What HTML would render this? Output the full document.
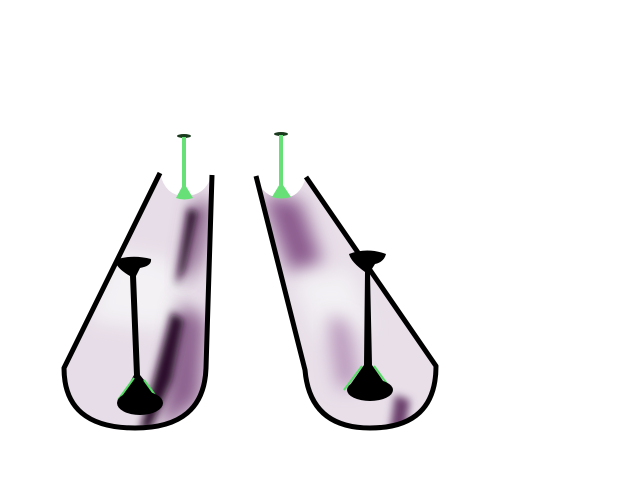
<!DOCTYPE html>
<html><head><meta charset="utf-8"><style>html,body{margin:0;padding:0;background:#fff;width:640px;height:480px;overflow:hidden}</style></head>
<body>
<svg width="640" height="480" viewBox="0 0 640 480" xmlns="http://www.w3.org/2000/svg">
<defs>
<clipPath id="cl"><path d="M160,173 Q165,196 185,196 Q205,196 212,175 L206,368 Q204,428 135,428 Q64,428 64,368 Z"/></clipPath>
<clipPath id="cr"><path d="M256,176 Q262,198 283,198 Q300,198 306,177 L436,366 Q436,428 370,428 Q310,428 305,370 Z"/></clipPath>
<filter id="b6" x="-50%" y="-50%" width="200%" height="200%"><feGaussianBlur stdDeviation="9"/></filter>
<filter id="b3" x="-50%" y="-50%" width="200%" height="200%"><feGaussianBlur stdDeviation="4"/></filter>
</defs>
<g>
<g clip-path="url(#cl)">
<rect x="50" y="160" width="170" height="280" fill="#e7dde8"/>
<path d="M110,250 L170,260 L200,310 L160,330 L90,320 Z" fill="#f3f1f4" filter="url(#b6)"/>
<path d="M195,200 L212,205 L200,260 L180,290 Z" fill="#7a4e7c" filter="url(#b6)"/>
<path d="M188,208 L198,212 L185,270 L176,285 Z" fill="#2a0f2c" filter="url(#b3)"/>
<path d="M180,300 L205,320 L200,400 L160,430 Z" fill="#8a5e8c" filter="url(#b6)"/>
<path d="M172,312 L184,320 L172,380 L150,430 L140,430 L156,370 Z" fill="#2a0f2c" filter="url(#b3)"/>
</g>
<path d="M160,173 L64,368 Q64,428 135,428 Q204,428 206,368 L212,175" fill="none" stroke="#000" stroke-width="5" stroke-linejoin="round"/>
</g>
<g>
<g clip-path="url(#cr)">
<rect x="250" y="160" width="200" height="280" fill="#e8dfe9"/>
<path d="M262,195 L300,200 L322,262 L290,272 Z" fill="#8a5a8d" filter="url(#b6)"/>
<path d="M295,280 L350,270 L370,330 L320,340 Z" fill="#f3f1f4" filter="url(#b6)"/>
<path d="M328,315 L348,322 L358,385 L338,388 Z" fill="#b592b7" filter="url(#b6)"/>
<path d="M395,395 L410,400 L405,430 L390,430 Z" fill="#6a3f6c" filter="url(#b3)"/>
</g>
<path d="M256,176 L305,370 Q310,428 370,428 Q436,428 436,366 L306,177" fill="none" stroke="#000" stroke-width="5" stroke-linejoin="round"/>
</g>
<g fill="#66e077">
<ellipse cx="184" cy="136" rx="7" ry="2" fill="#1a3a1e"/>
<path d="M182,137 L186,137 L186,187 L182,187 Z"/>
<path d="M176,198 L184,183 L193,198 Q184,201 176,198 Z"/>
</g>
<g fill="#66e077">
<ellipse cx="281" cy="134" rx="7" ry="2" fill="#1a3a1e"/>
<path d="M279,135 L283,135 L283,185 L279,185 Z"/>
<path d="M272,197 L281,182 L291,197 Q281,200 272,197 Z"/>
</g>
<g fill="#000">
<path d="M115,260 Q132,254 151,259 Q152,266 140,268 L136,276 L140,375 L160,400 L120,400 L134,375 L130,276 Q116,268 115,260 Z"/>
<path d="M118,400 L134,378" stroke="#55dd66" stroke-width="2"/>
<path d="M144,380 L160,402" stroke="#55dd66" stroke-width="2"/>
<ellipse cx="140" cy="403" rx="23" ry="12"/>
</g>
<g fill="#000">
<path d="M349,254 Q367,247 386,254 Q384,262 375,264 L370,272 L372,365 L388,388 L348,388 L364,365 L365,272 Q351,262 349,254 Z"/>
<path d="M344,390 L362,366" stroke="#55dd66" stroke-width="2"/>
<path d="M374,366 L390,388" stroke="#55dd66" stroke-width="2"/>
<ellipse cx="370" cy="390" rx="23" ry="11"/>
</g>
</svg>
</body></html>
